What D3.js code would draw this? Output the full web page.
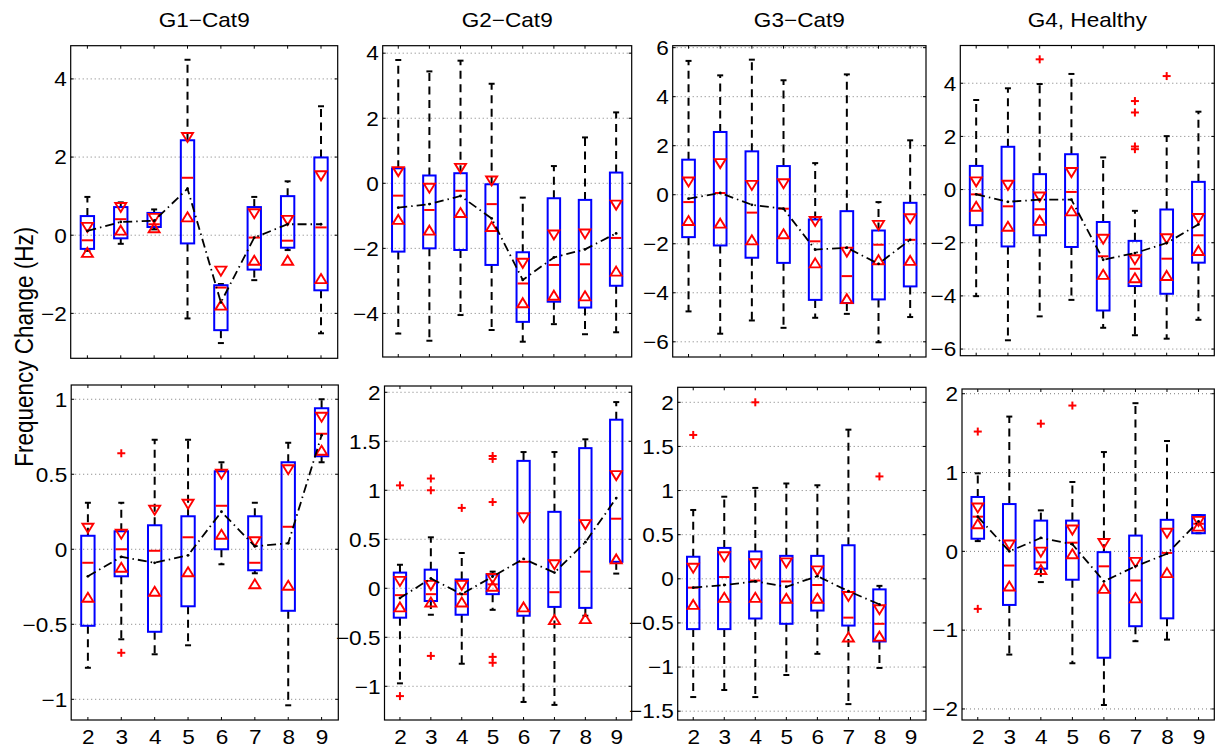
<!DOCTYPE html>
<html><head><meta charset="utf-8">
<script src="https://cdn.jsdelivr.net/npm/d3@7"></script>
<style>
html,body{margin:0;padding:0;background:#fff;}
svg{display:block;}
text{font-family:"Liberation Sans",Arial,Helvetica,sans-serif;fill:#000;}
</style>
</head><body>
<svg id="c" width="1216" height="748"></svg>
<script>
// ---------------- DATA ----------------
const categories = [2, 3, 4, 5, 6, 7, 8, 9];
const panelTitles = ["G1\u2212Cat9", "G2\u2212Cat9", "G3\u2212Cat9", "G4, Healthy"];
const yLabel = "Frequency Change (Hz)";

// y tick values per panel (top row G1..G4, then bottom row G1..G4)
const yTickValues = [
  [-2, 0, 2, 4],
  [-4, -2, 0, 2, 4],
  [-6, -4, -2, 0, 2, 4, 6],
  [-6, -4, -2, 0, 2, 4],
  [-1, -0.5, 0, 0.5, 1],
  [-1, -0.5, 0, 0.5, 1, 1.5, 2],
  [-1.5, -1, -0.5, 0, 0.5, 1, 1.5, 2],
  [-2, -1, 0, 1, 2]
];
const yDomains = [
  [-3.15, 4.85], [-5.34, 4.23], [-6.62, 6.08], [-6.25, 5.42],
  [-1.138, 1.095], [-1.344, 2.064], [-1.6, 2.17], [-2.14, 2.06]
];

const whiskerHigh = [
  [0.98, 0.84, 0.66, 4.49, -1.25, 0.98, 1.38, 3.30],
  [3.79, 3.44, 3.77, 3.06, -0.44, 0.53, 1.41, 2.18],
  [5.46, 4.87, 5.51, 4.67, 1.29, 4.91, -0.30, 2.22],
  [3.37, 3.81, 3.97, 4.35, 1.21, -0.80, 2.01, 2.93],
  [0.31, 0.31, 0.73, 0.73, 0.58, 0.31, 0.71, 1.00],
  [0.24, 0.52, 0.36, 0.17, 1.39, 1.39, 1.52, 1.90],
  [0.78, 0.93, 1.03, 1.08, 1.06, 1.69, -0.08, null],
  [0.99, 1.71, 0.52, 0.88, 1.26, 1.88, 1.40, 0.46]
];
const q3 = [
  [0.49, 0.72, 0.57, 2.43, -1.28, 0.72, 1.00, 1.99],
  [0.46, 0.24, 0.31, -0.03, -2.12, -0.46, -0.51, 0.33],
  [1.43, 2.56, 1.77, 1.17, -1.01, -0.67, -1.46, -0.33],
  [0.89, 1.61, 0.58, 1.33, -1.22, -1.93, -0.75, 0.29],
  [0.09, 0.12, 0.16, 0.22, 0.52, 0.22, 0.58, 0.94],
  [0.16, 0.19, 0.09, 0.14, 1.30, 0.78, 1.43, 1.72],
  [0.25, 0.35, 0.31, 0.26, 0.26, 0.38, -0.12, null],
  [0.69, 0.60, 0.39, 0.39, -0.01, 0.20, 0.40, 0.46]
];
const medians = [
  [-0.13, 0.41, 0.28, 1.47, -1.34, -0.06, -0.14, 0.20],
  [-0.38, -0.82, -0.23, -0.64, -3.08, -2.51, -2.49, -1.68],
  [-0.30, 0.07, -0.73, -0.57, -1.90, -3.32, -2.04, -1.84],
  [-0.18, -0.63, -0.74, -0.09, -2.51, -2.98, -2.60, -1.72],
  [-0.09, 0.00, -0.01, 0.08, 0.29, -0.09, 0.15, 0.77],
  [-0.07, -0.06, -0.06, 0.04, 0.27, -0.04, 0.17, 0.71],
  [-0.10, 0.02, -0.02, -0.03, -0.07, -0.44, -0.51, null],
  [0.44, -0.18, -0.14, 0.11, -0.19, -0.37, -0.02, 0.35]
];
const q1 = [
  [-0.35, -0.08, 0.21, -0.21, -2.43, -0.88, -0.32, -1.41],
  [-2.10, -2.00, -2.05, -2.51, -4.26, -3.64, -3.82, -3.15],
  [-1.73, -2.07, -2.57, -2.78, -4.29, -4.42, -4.27, -3.74],
  [-1.34, -2.14, -1.72, -2.16, -4.55, -3.63, -3.92, -2.75],
  [-0.51, -0.18, -0.55, -0.38, 0.00, -0.14, -0.41, 0.62],
  [-0.30, -0.13, -0.27, -0.06, -0.28, -0.19, -0.20, 0.27],
  [-0.57, -0.57, -0.45, -0.51, -0.36, -0.53, -0.71, null],
  [0.16, -0.68, -0.22, -0.36, -1.35, -0.95, -0.85, 0.23]
];
const whiskerLow = [
  [-0.40, -0.22, 0.15, -2.13, -2.76, -1.15, -0.38, -2.51],
  [-4.62, -4.84, -4.05, -4.51, -4.87, -4.33, -4.64, -4.58],
  [-4.76, -5.67, -5.13, -5.43, -5.02, -4.86, -6.02, -4.99],
  [-4.01, -5.67, -4.77, -4.15, -5.20, -5.48, -5.61, -4.90],
  [-0.79, -0.60, -0.70, -0.64, -0.10, -0.16, -1.04, 0.58],
  [-0.97, -0.27, -0.77, -0.22, -1.16, -1.19, -0.28, 0.15],
  [-1.34, -1.26, -1.34, -1.09, -0.85, -1.42, -1.01, null],
  [0.13, -1.31, -0.39, -1.42, -1.95, -1.14, -1.12, 0.23]
];
const notchHigh = [
  [0.20, 0.71, 0.43, 2.50, -0.92, 0.55, 0.38, 1.52],
  [0.36, -0.15, 0.46, 0.07, -2.46, -1.59, -1.56, -0.67],
  [0.52, 1.27, 0.38, 0.45, -1.09, -2.34, -1.25, -0.98],
  [0.29, 0.16, -0.28, 0.64, -1.87, -2.64, -1.85, -1.09],
  [0.14, 0.10, 0.26, 0.30, 0.50, 0.05, 0.53, 0.88],
  [0.07, 0.03, 0.03, 0.10, 0.72, 0.24, 0.65, 1.15],
  [0.12, 0.25, 0.17, 0.18, 0.09, -0.20, -0.35, null],
  [0.55, 0.08, -0.01, 0.27, 0.10, -0.14, 0.23, 0.38]
];
const notchLow = [
  [-0.44, 0.13, 0.19, 0.47, -1.79, -0.64, -0.64, -1.11],
  [-1.11, -1.44, -0.90, -1.33, -3.67, -3.44, -3.46, -2.70],
  [-1.05, -1.16, -1.84, -1.59, -2.78, -4.24, -2.65, -2.68],
  [-0.63, -1.38, -1.16, -0.80, -3.19, -3.32, -3.23, -2.29],
  [-0.32, -0.12, -0.28, -0.15, 0.10, -0.23, -0.24, 0.66],
  [-0.19, -0.14, -0.14, 0.02, -0.19, -0.32, -0.31, 0.30],
  [-0.29, -0.21, -0.21, -0.22, -0.22, -0.66, -0.65, null],
  [0.35, -0.44, -0.23, -0.03, -0.47, -0.59, -0.27, 0.32]
];
const means = [
  [0.11, 0.34, 0.37, 1.19, -1.72, -0.06, 0.28, 0.28],
  [-0.75, -0.64, -0.39, -1.08, -2.97, -2.28, -2.03, -1.54],
  [-0.16, 0.07, -0.41, -0.57, -2.24, -2.16, -2.82, -1.84],
  [-0.18, -0.46, -0.38, -0.38, -2.64, -2.39, -2.01, -1.31],
  [-0.18, -0.05, -0.09, -0.04, 0.25, 0.02, 0.04, 0.76],
  [-0.10, 0.10, -0.06, 0.12, 0.30, 0.16, 0.47, 0.92],
  [-0.10, -0.07, -0.03, -0.09, 0.03, -0.14, -0.29, null],
  [0.44, 0.00, 0.17, 0.09, -0.38, -0.19, -0.03, 0.38]
];
// outliers per panel: [category, value]
const outliers = [
  [],
  [],
  [],
  [[4, 4.90], [7, 3.33], [7, 2.90], [7, 1.62], [7, 1.52], [8, 4.27]],
  [[3, 0.64], [3, -0.69]],
  [[2, 1.05], [2, -1.10], [3, 1.12], [3, 1.00], [3, -0.69], [4, 0.82],
   [5, 1.35], [5, 1.32], [5, 0.88], [5, -0.70], [5, -0.76]],
  [[2, 1.63], [4, 2.00], [8, 1.16]],
  [[2, 1.52], [2, -0.73], [4, 1.62], [5, 1.85]]
];

// ---------------- LAYOUT ----------------
const frames = [
  {l: 70.7, r: 337.7, t: 45.7, b: 358.3},
  {l: 382.7, r: 631.7, t: 45.7, b: 357},
  {l: 672.7, r: 926, t: 45.7, b: 357},
  {l: 960.3, r: 1214.3, t: 45.5, b: 355.7},
  {l: 71.2, r: 338.3, t: 385, b: 720},
  {l: 384.5, r: 631.7, t: 386, b: 720},
  {l: 677.7, r: 926, t: 387.3, b: 720},
  {l: 962, r: 1214.3, t: 389, b: 720}
];
const SX = 1.13;       // horizontal text stretch of the reference
const FS = 20;         // tick / title font size
const BLUE = "#0000ff", RED = "#ff0000";

const svg = d3.select("#c");
const fmt = d3.format("");

frames.forEach((f, p) => {
  const x = d3.scaleLinear().domain([1.5, 9.5]).range([f.l, f.r]);
  const y = d3.scaleLinear().domain(yDomains[p]).range([f.b, f.t]);
  const g = svg.append("g");

  // grid
  g.append("g").selectAll("line").data(yTickValues[p]).join("line")
    .attr("x1", f.l).attr("x2", f.r)
    .attr("y1", d => y(d)).attr("y2", d => y(d))
    .attr("stroke", "#7a7a7a").attr("stroke-width", 1)
    .attr("stroke-dasharray", "1,3");

  // y axis labels
  const ay = g.append("g").attr("transform", `translate(${f.l},0)`)
    .call(d3.axisLeft(y).tickValues(yTickValues[p]).tickSize(0).tickPadding(4).tickFormat(fmt));
  ay.attr("font-size", FS).attr("font-family", null);
  ay.select(".domain").remove();
  ay.selectAll("text").attr("x", -4 / SX).attr("dy", "0.34em").attr("transform", `scale(${SX},1)`);

  // inward ticks
  const tk = g.append("g").attr("stroke", "#000").attr("stroke-width", 1);
  yTickValues[p].forEach(v => {
    tk.append("line").attr("x1", f.l).attr("x2", f.l + 3).attr("y1", y(v)).attr("y2", y(v));
    tk.append("line").attr("x1", f.r - 3).attr("x2", f.r).attr("y1", y(v)).attr("y2", y(v));
  });
  categories.forEach(c => {
    tk.append("line").attr("x1", x(c)).attr("x2", x(c)).attr("y1", f.b).attr("y2", f.b - 3);
    tk.append("line").attr("x1", x(c)).attr("x2", x(c)).attr("y1", f.t).attr("y2", f.t + 3);
  });

  // x axis labels on bottom row
  if (p >= 4) {
    const ax = g.append("g").attr("transform", `translate(0,${f.b})`)
      .call(d3.axisBottom(x).tickValues(categories).tickSize(0).tickPadding(10).tickFormat(fmt));
    ax.attr("font-size", FS).attr("font-family", null);
    ax.select(".domain").remove();
    ax.selectAll("text").attr("transform", `scale(${SX},1)`);
  } else {
    g.append("text")
      .attr("transform", `translate(${(f.l + f.r) / 2},27.3) scale(${SX},1)`)
      .attr("text-anchor", "middle").attr("font-size", FS)
      .text(panelTitles[p]);
  }

  const halfBox = (x(2.2) - x(2));
  const capHalf = 3;

  const cols = categories.map((c, i) => ({
    c, wh: whiskerHigh[p][i], u: q3[p][i], m: medians[p][i], l: q1[p][i],
    wl: whiskerLow[p][i], nh: notchHigh[p][i], nl: notchLow[p][i]
  })).filter(d => d.m !== null);

  // whiskers
  const wg = g.append("g").attr("stroke", "#000").attr("stroke-width", 2).attr("fill", "none");
  cols.forEach(d => {
    const cx = x(d.c);
    if (d.wh > d.u) wg.append("line").attr("x1", cx).attr("x2", cx).attr("y1", y(d.u)).attr("y2", y(d.wh)).attr("stroke-dasharray", "8,5.5");
    if (d.wl < d.l) wg.append("line").attr("x1", cx).attr("x2", cx).attr("y1", y(d.l)).attr("y2", y(d.wl)).attr("stroke-dasharray", "8,5.5");
    wg.append("line").attr("x1", cx - capHalf).attr("x2", cx + capHalf).attr("y1", y(d.wh)).attr("y2", y(d.wh));
    wg.append("line").attr("x1", cx - capHalf).attr("x2", cx + capHalf).attr("y1", y(d.wl)).attr("y2", y(d.wl));
  });

  // boxes
  g.append("g").selectAll("rect").data(cols).join("rect")
    .attr("x", d => x(d.c) - halfBox).attr("width", 2 * halfBox)
    .attr("y", d => y(d.u)).attr("height", d => y(d.l) - y(d.u))
    .attr("fill", "none").attr("stroke", BLUE).attr("stroke-width", 2);

  // medians
  g.append("g").selectAll("line").data(cols).join("line")
    .attr("x1", d => x(d.c) - halfBox + 1).attr("x2", d => x(d.c) + halfBox - 1)
    .attr("y1", d => y(d.m)).attr("y2", d => y(d.m))
    .attr("stroke", RED).attr("stroke-width", 2);

  // notch markers
  const tri = g.append("g").attr("fill", "none").attr("stroke", RED).attr("stroke-width", 1.9);
  cols.forEach(d => {
    const cx = x(d.c), yh = y(d.nh), yl = y(d.nl);
    tri.append("path").attr("d", `M${cx - 5.5},${yh - 4.5}L${cx + 5.5},${yh - 4.5}L${cx},${yh + 4.5}Z`);
    tri.append("path").attr("d", `M${cx},${yl - 4.5}L${cx + 5.5},${yl + 4.5}L${cx - 5.5},${yl + 4.5}Z`);
  });

  // outliers
  const og = g.append("g").attr("stroke", RED).attr("stroke-width", 2);
  outliers[p].forEach(([c, v]) => {
    og.append("line").attr("x1", x(c) - 4).attr("x2", x(c) + 4).attr("y1", y(v)).attr("y2", y(v));
    og.append("line").attr("x1", x(c)).attr("x2", x(c)).attr("y1", y(v) - 4).attr("y2", y(v) + 4);
  });

  // mean line (dash-dot)
  const mpts = categories.map((c, i) => [c, means[p][i]]).filter(d => d[1] !== null);
  g.append("path").datum(mpts)
    .attr("d", d3.line().x(d => x(d[0])).y(d => y(d[1])))
    .attr("fill", "none").attr("stroke", "#000").attr("stroke-width", 1.8)
    .attr("stroke-dasharray", "9,4,1.5,4");
  g.append("g").selectAll("circle").data(mpts).join("circle")
    .attr("cx", d => x(d[0])).attr("cy", d => y(d[1])).attr("r", 1.4).attr("fill", "#000");

  // frame
  g.append("rect").attr("x", f.l).attr("y", f.t).attr("width", f.r - f.l).attr("height", f.b - f.t)
    .attr("fill", "none").attr("stroke", "#000").attr("stroke-width", 1.2);
});

// shared y label
svg.append("text")
  .attr("transform", `translate(33.3,346.7) scale(${SX},1) rotate(-90)`)
  .attr("text-anchor", "middle").attr("font-size", 22.5)
  .text(yLabel);
</script>
</body></html>
